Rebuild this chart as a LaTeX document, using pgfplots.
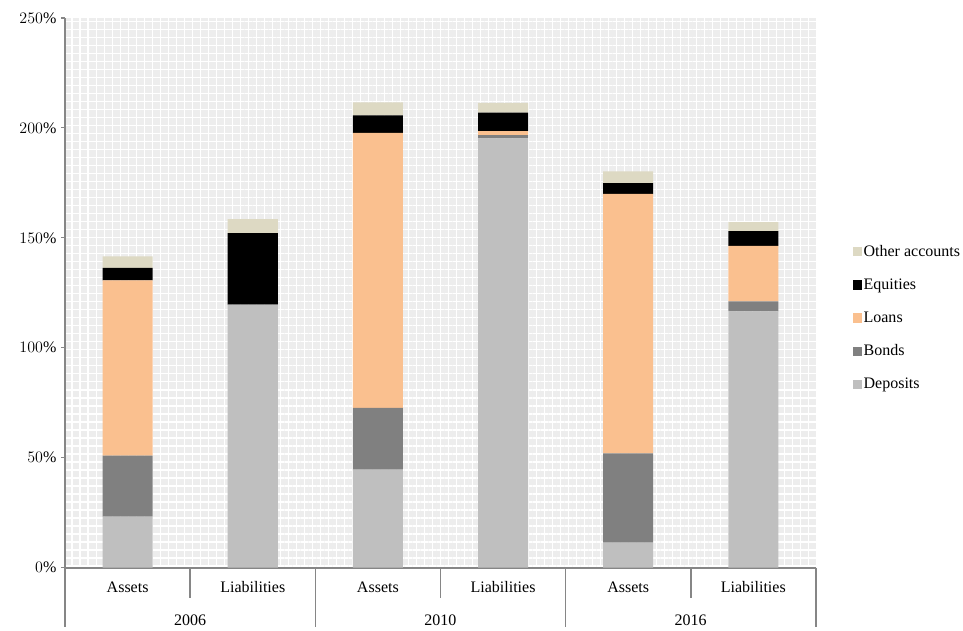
\documentclass[border=0pt]{standalone}
\usepackage{fontspec}
\setmainfont{Liberation Serif}
\usepackage{pgfplots}
\usepackage{pgfplotstable}
\pgfplotsset{compat=1.18}
\usetikzlibrary{patterns.meta}

\definecolor{cother}{RGB}{221,217,195}
\definecolor{cloans}{RGB}{250,192,143}
\definecolor{cbonds}{RGB}{128,128,128}
\definecolor{cdep}{RGB}{191,191,191}
\definecolor{axgray}{RGB}{134,134,134}
\definecolor{bggray}{RGB}{237,237,237}

\pgfplotsset{
  sq/.style={legend image code/.code={\fill[##1] (0pt,-3.5pt) rectangle (7pt,3.5pt);}},
}
\tikzset{catsep/.style={axgray, line width=1.2pt}}

% share of GDP
\pgfplotstableread{
x   dep    bonds  loans  eq    other
0   23.2   27.7   79.8   5.6   5.3
1   119.6  0.0    0.0    32.5  6.4
2   44.6   28.1   125.1  7.9   5.9
3   195.2  1.5    1.8    8.5   4.4
4   11.4   40.5   118.1  4.9   5.3
5   116.6  4.5    25.2   6.7   4.2
}\data

\begin{document}
\begin{tikzpicture}
\begin{axis}[
    scale only axis,
    width=562.5pt, height=411.75pt,
    ybar stacked, bar width=0.4,
    xmin=-0.5, xmax=5.5, ymin=0, ymax=250,
    xtick=data,
    xticklabels={Assets,Liabilities,Assets,Liabilities,Assets,Liabilities},
    x tick style={draw=none},
    xticklabel style={yshift=-4pt},
    ytick={0,50,...,250},
    yticklabel={\pgfmathprintnumber{\tick}\%},
    y tick style={axgray, line width=0.8pt},
    tick align=outside, major tick length=3pt,
    axis x line*=bottom, axis y line*=left,
    axis line style={axgray, line width=1.6pt, -},
    axis background/.style={fill=bggray,
        postaction={pattern={Lines[angle=0,distance=6pt,line width=0.9pt]}, pattern color=white},
        postaction={pattern={Lines[angle=90,distance=6pt,line width=0.9pt]}, pattern color=white}},
    tick label style={font=\fontsize{12}{14}\selectfont},
    legend style={at={(axis description cs:1.049,0.454)}, anchor=west,
        draw=none, fill=none, inner sep=0pt, row sep=13.3pt,
        nodes={inner sep=1pt}, font=\fontsize{12}{14}\selectfont},
    legend cell align=left,
    reverse legend,
    clip=false,
]
\addplot[fill=cdep, draw=none, sq] table[x=x, y=dep] {\data};
\addplot[fill=cbonds, draw=none, sq] table[x=x, y=bonds] {\data};
\addplot[fill=cloans, draw=none, sq] table[x=x, y=loans] {\data};
\addplot[fill=black, draw=none, sq] table[x=x, y=eq] {\data};
\addplot[fill=cother, draw=none, sq] table[x=x, y=other] {\data};
\legend{Deposits,Bonds,Loans,Equities,Other accounts}

% two-level category axis
\draw[catsep] (axis cs:-0.5,0) -- ++(0pt,-44.25pt);
\draw[catsep] (axis cs:1.5,0) -- ++(0pt,-44.25pt);
\draw[catsep] (axis cs:3.5,0) -- ++(0pt,-44.25pt);
\draw[catsep] (axis cs:5.5,0) -- ++(0pt,-44.25pt);
\draw[catsep] (axis cs:0.5,0) -- ++(0pt,-23pt);
\draw[catsep] (axis cs:2.5,0) -- ++(0pt,-23pt);
\draw[catsep] (axis cs:4.5,0) -- ++(0pt,-23pt);
\node[font=\fontsize{12}{14}\selectfont] at ([yshift=-39.5pt]axis cs:0.5,0) {2006};
\node[font=\fontsize{12}{14}\selectfont] at ([yshift=-39.5pt]axis cs:2.5,0) {2010};
\node[font=\fontsize{12}{14}\selectfont] at ([yshift=-39.5pt]axis cs:4.5,0) {2016};
\end{axis}
\path ([shift={(-48.75pt,-44.25pt)}]current axis.south west)
  rectangle ([shift={(110.25pt,13.5pt)}]current axis.north east);
\end{tikzpicture}
\end{document}
